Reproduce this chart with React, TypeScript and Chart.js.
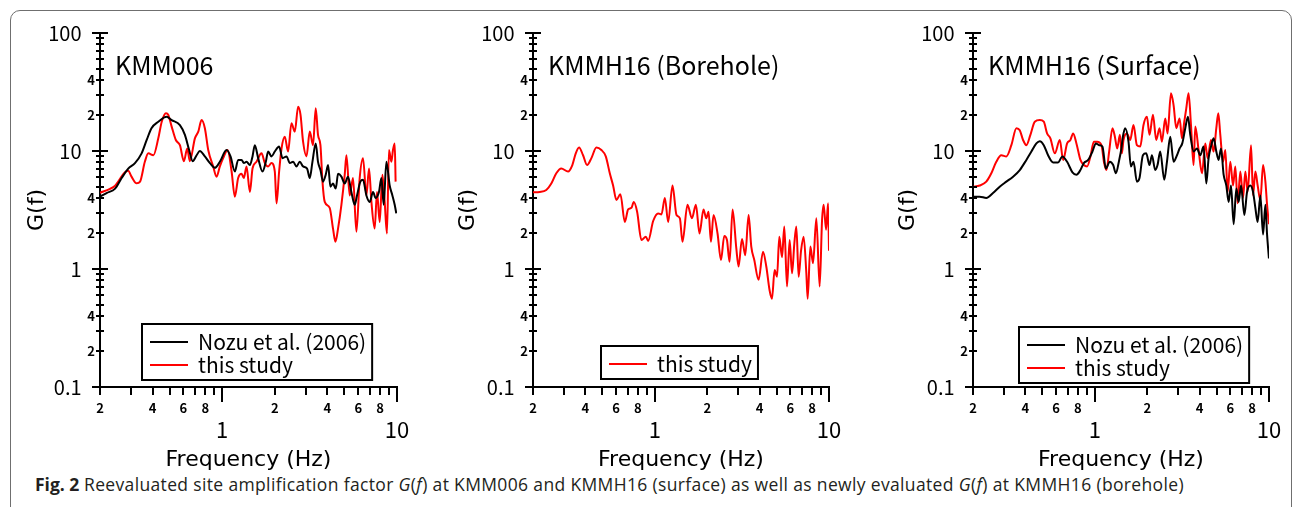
import React, { useEffect, useRef } from "react";
import { Chart, registerables } from "chart.js";

Chart.register(...registerables);

const FONT = '"Noto Sans CJK JP", "Noto Sans", sans-serif';
const AXIS_TITLE_FONT = '"DejaVu Sans", "Noto Sans", sans-serif';

// ---- axis ticks ----
const xTickValues = [0.2, 0.3, 0.4, 0.5, 0.6, 0.7, 0.8, 0.9, 1, 2, 3, 4, 5, 6, 7, 8, 9, 10];
const xTickLabels = ["2", "", "4", "", "6", "", "8", "", "1", "2", "", "4", "", "6", "", "8", "", "10"];
const xMajorValues = [1, 10];

const yTickValues = [0.1, 0.2, 0.3, 0.4, 0.5, 0.6, 0.7, 0.8, 0.9, 1, 2, 3, 4, 5, 6, 7, 8, 9, 10, 20, 30, 40, 50, 60, 70, 80, 90, 100];
const yTickLabels = ["0.1", "2", "", "4", "", "", "", "", "", "1", "2", "", "4", "", "", "", "", "", "10", "2", "", "4", "", "", "", "", "", "100"];
const yMajorValues = [0.1, 1, 10, 100];

// ---- KMM006 ----
const kmm006NozuF = [0.2, 0.218, 0.244, 0.266, 0.29, 0.317, 0.346, 0.37, 0.394, 0.431, 0.481, 0.514, 0.573, 0.612, 0.647, 0.678, 0.714, 0.745, 0.796, 0.851, 0.908, 0.97, 1.059, 1.116, 1.181, 1.234, 1.291, 1.33, 1.378, 1.44, 1.491, 1.537, 1.606, 1.701, 1.777, 1.831, 1.915, 2.0, 2.117, 2.213, 2.333, 2.438, 2.546, 2.66, 2.779, 2.902, 3.06, 3.17, 3.283, 3.428, 3.533, 3.648, 3.776, 3.911, 4.034, 4.16, 4.305, 4.463, 4.6, 4.808, 5.023, 5.244, 5.483, 5.73, 5.905, 6.174, 6.391, 6.683, 6.982, 7.293, 7.546, 7.886, 8.145, 8.389, 8.694, 9.081, 9.41, 9.701, 9.909];
const kmm006NozuG = [4.1, 4.4, 4.8, 5.9, 7.1, 7.9, 9.55, 12.4, 15.6, 17.7, 19.5, 18.3, 16.6, 13.7, 10.2, 8.2, 9.2, 10.0, 9.0, 7.9, 7.2, 8.1, 10.2, 9.0, 6.7, 8.4, 8.4, 7.9, 8.1, 7.6, 9.0, 11.2, 8.7, 6.7, 8.1, 9.9, 9.0, 9.9, 10.9, 8.7, 9.0, 7.9, 8.1, 7.4, 8.1, 7.4, 7.1, 5.9, 8.1, 11.6, 8.1, 6.9, 5.5, 6.3, 7.6, 4.98, 5.3, 4.8, 6.4, 6.06, 5.3, 6.06, 4.5, 3.5, 4.2, 5.5, 5.7, 4.2, 3.7, 4.5, 4.0, 4.5, 5.9, 3.5, 8.1, 5.1, 4.2, 3.5, 2.96];
const kmm006StudyF = [0.2, 0.228, 0.244, 0.278, 0.29, 0.303, 0.324, 0.339, 0.361, 0.378, 0.404, 0.431, 0.451, 0.477, 0.491, 0.514, 0.543, 0.573, 0.604, 0.631, 0.653, 0.698, 0.73, 0.762, 0.796, 0.832, 0.888, 0.929, 0.97, 1.013, 1.074, 1.132, 1.181, 1.234, 1.291, 1.33, 1.378, 1.44, 1.491, 1.571, 1.679, 1.754, 1.831, 1.915, 2.0, 2.046, 2.117, 2.185, 2.281, 2.382, 2.49, 2.603, 2.718, 2.805, 2.902, 3.035, 3.17, 3.309, 3.428, 3.533, 3.648, 3.747, 3.861, 4.121, 4.305, 4.446, 4.6, 4.808, 5.023, 5.136, 5.365, 5.603, 5.86, 6.117, 6.391, 6.683, 6.918, 7.139, 7.452, 7.685, 7.962, 8.249, 8.503, 8.762, 8.995, 9.283, 9.483, 9.701, 9.82];
const kmm006StudyG = [4.43, 4.77, 5.08, 6.6, 6.8, 6.06, 5.32, 5.5, 8.1, 9.55, 9.2, 12.8, 17.7, 20.9, 20.3, 16.1, 12.4, 11.2, 8.2, 10.5, 8.2, 12.8, 14.6, 18.3, 15.6, 10.2, 7.4, 6.06, 7.4, 8.7, 10.2, 6.7, 4.1, 5.9, 6.4, 5.9, 7.4, 4.5, 7.1, 8.1, 9.55, 7.9, 7.4, 7.9, 6.7, 3.6, 6.7, 10.5, 13.2, 9.9, 17.2, 14.6, 23.7, 20.3, 12, 9.0, 14.6, 11.2, 23, 13.7, 11.2, 5.5, 3.7, 3.3, 2.2, 1.7, 2.2, 3.5, 6.3, 9.2, 4.2, 5.9, 2.07, 5.9, 8.7, 4.2, 7.1, 3.7, 2.2, 4.5, 2.5, 6.3, 3.7, 2.0, 10.2, 8.1, 10.2, 11.6, 5.5];

// ---- KMMH16 (Borehole) ----
const kmmh16BoreStudyF = [0.2, 0.2185, 0.2384, 0.2548, 0.2721, 0.2907, 0.3178, 0.3364, 0.3519, 0.3676, 0.3876, 0.4087, 0.4327, 0.4622, 0.4937, 0.5233, 0.5518, 0.5765, 0.6021, 0.6348, 0.673, 0.7031, 0.7343, 0.758, 0.7919, 0.8383, 0.8886, 0.9161, 0.9788, 1.0457, 1.0924, 1.1427, 1.1938, 1.2637, 1.3324, 1.3936, 1.442, 1.541, 1.634, 1.722, 1.806, 1.904, 1.974, 2.035, 2.101, 2.174, 2.292, 2.398, 2.505, 2.596, 2.687, 2.796, 2.937, 3.027, 3.166, 3.307, 3.455, 3.58, 3.725, 3.943, 4.179, 4.366, 4.56, 4.707, 4.873, 5.03, 5.185, 5.374, 5.54, 5.741, 5.943, 6.135, 6.324, 6.494, 6.695, 6.911, 7.152, 7.413, 7.541, 7.816, 8.1, 8.46, 8.838, 9.124, 9.319, 9.621, 9.879, 10];
const kmmh16BoreStudyG = [4.47, 4.5, 4.67, 5.3, 6.47, 7.1, 6.7, 7.6, 9.55, 10.7, 9.2, 7.6, 8.7, 10.7, 10.2, 9.0, 6.47, 5.1, 3.85, 4.3, 2.5, 3.2, 3.3, 3.7, 3.06, 1.76, 1.88, 1.73, 2.55, 2.96, 2.9, 4.0, 2.5, 5.1, 2.87, 2.69, 1.7, 3.5, 2.69, 3.5, 2.0, 3.2, 2.69, 3.06, 1.7, 2.87, 2.0, 1.19, 1.9, 1.76, 1.15, 3.2, 1.5, 1.05, 1.8, 1.31, 2.87, 1.55, 1.19, 0.81, 1.4, 1.05, 0.66, 0.56, 0.98, 0.86, 1.88, 1.26, 2.29, 0.71, 1.76, 0.92, 1.64, 2.29, 0.86, 1.43, 1.88, 0.92, 0.56, 1.55, 1.12, 2.69, 0.71, 2.6, 3.5, 2.15, 3.6, 1.43];

// ---- KMMH16 (Surface) ----
const kmmh16SurfNozuF = [0.2, 0.2185, 0.2384, 0.2605, 0.2847, 0.3108, 0.3396, 0.3711, 0.4049, 0.4327, 0.4622, 0.4833, 0.5096, 0.5395, 0.5765, 0.616, 0.652, 0.6938, 0.7444, 0.7846, 0.8274, 0.8654, 0.9161, 0.9696, 1.0144, 1.0595, 1.1068, 1.1576, 1.2205, 1.2754, 1.3218, 1.3809, 1.42, 1.4497, 1.4948, 1.5613, 1.6117, 1.6683, 1.7448, 1.806, 1.8893, 1.974, 2.0617, 2.128, 2.223, 2.292, 2.375, 2.505, 2.596, 2.712, 2.833, 2.964, 3.068, 3.178, 3.307, 3.427, 3.533, 3.691, 3.86, 4.033, 4.213, 4.366, 4.501, 4.646, 4.808, 4.984, 5.138, 5.304, 5.489, 5.689, 5.865, 6.053, 6.266, 6.494, 6.695, 6.911, 7.22, 7.482, 7.816, 8.1, 8.35, 8.608, 8.921, 9.245, 9.533, 9.748, 9.99];
const kmmh16SurfNozuG = [4.1, 4.1, 4.0, 4.4, 4.98, 5.5, 6.06, 6.9, 8.4, 9.9, 11.6, 12.1, 11.2, 9.2, 8.0, 8.0, 9.0, 8.1, 6.6, 6.3, 6.9, 7.9, 8.4, 9.9, 11.6, 11.2, 10.9, 7.1, 8.1, 7.6, 6.47, 8.4, 10.4, 13.2, 15.6, 12.0, 7.4, 8.1, 5.5, 5.9, 9.2, 9.55, 7.6, 9.2, 6.9, 7.6, 9.9, 5.7, 8.1, 13.2, 8.1, 9.2, 10.5, 11.6, 15.6, 19.5, 13.7, 9.9, 10.5, 9.2, 10.9, 5.3, 8.7, 10.9, 12.8, 9.9, 8.4, 10.5, 6.3, 5.1, 3.7, 5.1, 2.4, 4.8, 3.7, 5.1, 2.87, 4.5, 5.1, 4.5, 3.3, 2.5, 4.2, 1.96, 3.5, 1.96, 1.23];
const kmmh16SurfStudyF = [0.2, 0.2185, 0.2384, 0.2548, 0.2721, 0.2907, 0.3108, 0.332, 0.3548, 0.3711, 0.3876, 0.4049, 0.427, 0.4525, 0.4833, 0.5096, 0.5324, 0.5562, 0.5893, 0.63, 0.658, 0.6938, 0.7247, 0.7513, 0.7846, 0.8274, 0.8654, 0.9041, 0.9443, 0.9879, 1.0318, 1.0924, 1.132, 1.167, 1.2093, 1.2637, 1.3045, 1.3448, 1.3936, 1.43, 1.4615, 1.5286, 1.5969, 1.6683, 1.7448, 1.8232, 1.904, 1.9923, 2.0617, 2.157, 2.253, 2.353, 2.429, 2.538, 2.617, 2.737, 2.833, 2.937, 3.068, 3.166, 3.264, 3.351, 3.455, 3.566, 3.691, 3.775, 3.943, 4.125, 4.309, 4.442, 4.646, 4.808, 4.984, 5.117, 5.254, 5.446, 5.615, 5.788, 5.998, 6.216, 6.408, 6.607, 6.848, 7.096, 7.315, 7.541, 7.889, 8.1, 8.35, 8.608, 8.921, 9.245, 9.533, 9.748, 9.99];
const kmmh16SurfStudyG = [4.98, 5.1, 5.5, 6.47, 8.1, 9.2, 9.0, 11.2, 15.6, 15.0, 12.4, 11.2, 13.7, 17.7, 18.3, 17.7, 14.1, 12.8, 9.55, 12.4, 8.4, 11.6, 12.4, 14.1, 11.6, 8.4, 7.6, 7.4, 9.0, 12.0, 12.0, 11.2, 7.9, 6.9, 9.9, 15.6, 13.2, 10.5, 13.7, 9.55, 12.4, 14.1, 12.4, 16.6, 11.2, 10.9, 16.6, 19.5, 13.7, 20.3, 12.4, 15.6, 12.0, 18.9, 14.1, 30.8, 24.5, 15.6, 18.9, 12.8, 17.7, 23.0, 30.8, 16.6, 7.6, 16.1, 10.2, 6.47, 11.6, 8.7, 12.4, 9.9, 15.6, 20.9, 13.7, 8.1, 10.2, 4.5, 8.1, 5.1, 7.4, 3.6, 6.7, 4.0, 6.7, 4.5, 11.2, 4.2, 6.7, 5.1, 3.85, 7.6, 5.5, 3.5, 2.4];

const NOZU_LABEL = "Nozu et al. (2006)";
const STUDY_LABEL = "this study";

type Series = { label: string; f: number[]; g: number[]; color: string };
type Panel = {
  title: string;
  canvasLeft: number;
  canvasWidth: number;
  rightPad: number;
  yTitlePad: number;
  legendDx: number;
  legendGap: number;
  series: Series[];
};

const panels: Panel[] = [
  {
    title: "KMM006",
    canvasLeft: 10,
    canvasWidth: 417,
    rightPad: 30,
    yTitlePad: 16,
    legendDx: 42,
    legendGap: 7,
    series: [
      { label: NOZU_LABEL, f: kmm006NozuF, g: kmm006NozuG, color: "#000000" },
      { label: STUDY_LABEL, f: kmm006StudyF, g: kmm006StudyG, color: "#ff0000" },
    ],
  },
  {
    title: "KMMH16 (Borehole)",
    canvasLeft: 443,
    canvasWidth: 416,
    rightPad: 30,
    yTitlePad: 14,
    legendDx: 68,
    legendGap: 8,
    series: [{ label: STUDY_LABEL, f: kmmh16BoreStudyF, g: kmmh16BoreStudyG, color: "#ff0000" }],
  },
  {
    title: "KMMH16 (Surface)",
    canvasLeft: 883,
    canvasWidth: 411,
    rightPad: 25,
    yTitlePad: 14,
    legendDx: 46,
    legendGap: 4,
    series: [
      { label: NOZU_LABEL, f: kmmh16SurfNozuF, g: kmmh16SurfNozuG, color: "#000000" },
      { label: STUDY_LABEL, f: kmmh16SurfStudyF, g: kmmh16SurfStudyG, color: "#ff0000" },
    ],
  },
];

const CANVAS_TOP = 12;
const CANVAS_HEIGHT = 458;

function PanelChart({ panel }: { panel: Panel }) {
  const ref = useRef<HTMLCanvasElement | null>(null);

  useEffect(() => {
    const canvas = ref.current;
    if (!canvas) return;

    const tickPlugin = {
      id: "logTickMarks",
      afterDraw(chart: any) {
        const { ctx, chartArea, scales } = chart;
        ctx.save();
        ctx.strokeStyle = "#000";
        ctx.lineWidth = 2;
        xTickValues.forEach((v) => {
          const px = Math.round(scales.x.getPixelForValue(v));
          const len = xMajorValues.includes(v) ? 15 : 8;
          ctx.beginPath();
          ctx.moveTo(px, chartArea.bottom);
          ctx.lineTo(px, chartArea.bottom + len);
          ctx.stroke();
        });
        yTickValues.forEach((v) => {
          const py = Math.round(scales.y.getPixelForValue(v));
          const half = yMajorValues.includes(v) ? 8 : 4;
          const right = v === 0.1 ? chartArea.left : chartArea.left + half;
          ctx.beginPath();
          ctx.moveTo(chartArea.left - half, py);
          ctx.lineTo(right, py);
          ctx.stroke();
        });
        ctx.restore();
      },
    };

    const titlePlugin = {
      id: "stationTitle",
      afterDraw(chart: any) {
        const { ctx, chartArea } = chart;
        ctx.save();
        ctx.font = `25px ${FONT}`;
        ctx.fillStyle = "#000";
        ctx.textAlign = "left";
        ctx.textBaseline = "middle";
        ctx.fillText(panel.title, chartArea.left + 15, chartArea.top + 32);
        ctx.restore();
      },
    };

    const legendPlugin = {
      id: "boxLegend",
      afterDraw(chart: any) {
        const { ctx, chartArea } = chart;
        const rows = chart.data.datasets;
        ctx.save();
        ctx.font = `21px ${FONT}`;
        const textW = Math.max(...rows.map((r: any) => ctx.measureText(r.label).width));
        const boxW = 56 + textW + 6;
        const boxH = 10 + rows.length * 23;
        const left = chartArea.left + panel.legendDx;
        const bottom = chartArea.bottom - panel.legendGap;
        const top = bottom - boxH;
        ctx.fillStyle = "#fff";
        ctx.fillRect(left, top, boxW, boxH);
        ctx.strokeStyle = "#000";
        ctx.lineWidth = 2;
        ctx.strokeRect(left, top, boxW, boxH);
        rows.forEach((r: any, i: number) => {
          const y = top + 18 + i * 23;
          ctx.strokeStyle = r.borderColor;
          ctx.lineWidth = 2;
          ctx.beginPath();
          ctx.moveTo(left + 8, y);
          ctx.lineTo(left + 46, y);
          ctx.stroke();
          ctx.fillStyle = "#000";
          ctx.textAlign = "left";
          ctx.textBaseline = "middle";
          ctx.fillText(r.label, left + 56, y);
        });
        ctx.restore();
      },
    };

    const chart = new Chart(canvas, {
      type: "line",
      data: {
        datasets: panel.series.map((s) => ({
          label: s.label,
          data: s.f.map((f, i) => ({ x: f, y: s.g[i] })),
          borderColor: s.color,
          backgroundColor: s.color,
          borderWidth: 2,
          pointRadius: 0,
          cubicInterpolationMode: "monotone" as const,
          fill: false,
          borderJoinStyle: "round" as const,
        })),
      },
      options: {
        responsive: false,
        animation: false,
        devicePixelRatio: 1,
        events: [],
        layout: { padding: { left: 0, top: 21, right: panel.rightPad, bottom: 0 } },
        plugins: {
          legend: { display: false },
          tooltip: { enabled: false },
          title: { display: false },
        },
        scales: {
          x: {
            type: "logarithmic",
            position: "bottom",
            min: 0.2,
            max: 10,
            grid: { display: false, drawTicks: false, tickLength: 0 },
            border: { display: true, color: "#000", width: 2 },
            afterBuildTicks: (scale: any) => {
              scale.ticks = xTickValues.map((v) => ({ value: v }));
            },
            afterFit: (scale: any) => {
              scale.height = CANVAS_HEIGHT - 21 - 354;
              scale.paddingLeft = 0;
              scale.paddingRight = 0;
            },
            ticks: {
              autoSkip: false,
              maxRotation: 0,
              minRotation: 0,
              padding: 13,
              color: "#000",
              callback: (_v: any, i: number) => xTickLabels[i] ?? "",
              font: (c: any) =>
                c.tick && xMajorValues.includes(c.tick.value)
                  ? { family: FONT, size: 22, lineHeight: 60 / 22 }
                  : { family: FONT, size: 13, weight: "bold", lineHeight: 1.2 },
            },
            title: {
              display: true,
              text: "Frequency (Hz)",
              color: "#000",
              font: { family: AXIS_TITLE_FONT, size: 22, lineHeight: 1 },
              padding: { top: 0, bottom: -1 },
            },
          },
          y: {
            type: "logarithmic",
            position: "left",
            min: 0.1,
            max: 100,
            grid: { display: false, drawTicks: false, tickLength: 0 },
            border: { display: true, color: "#000", width: 2 },
            afterBuildTicks: (scale: any) => {
              scale.ticks = yTickValues.map((v) => ({ value: v }));
            },
            afterFit: (scale: any) => {
              scale.width = 90;
              scale.paddingTop = 0;
              scale.paddingBottom = 0;
            },
            ticks: {
              autoSkip: false,
              padding: 5,
              color: "#000",
              callback: (v: any, i: number) => {
                const lab = yTickLabels[i] ?? "";
                return yMajorValues.includes(yTickValues[i]) ? lab + "   " : lab;
              },
              font: (c: any) =>
                c.tick && yMajorValues.includes(c.tick.value)
                  ? { family: FONT, size: 20, lineHeight: 1.2 }
                  : { family: FONT, size: 13, weight: "bold", lineHeight: 1.2 },
            },
            title: {
              display: true,
              text: "G(f)",
              color: "#000",
              font: { family: AXIS_TITLE_FONT, size: 22, lineHeight: 1 },
              padding: { top: panel.yTitlePad, bottom: 0 },
            },
          },
        },
      } as any,
      plugins: [tickPlugin, titlePlugin, legendPlugin],
    });

    return () => chart.destroy();
  }, [panel]);

  return (
    <canvas
      ref={ref}
      width={panel.canvasWidth}
      height={CANVAS_HEIGHT}
      style={{
        position: "absolute",
        left: panel.canvasLeft,
        top: CANVAS_TOP,
        width: panel.canvasWidth,
        height: CANVAS_HEIGHT,
      }}
    />
  );
}

export default function App() {
  return (
    <div
      style={{
        position: "absolute",
        left: 0,
        top: 0,
        width: 1295,
        height: 507,
        overflow: "hidden",
        background: "#fff",
      }}
    >
      <div
        style={{
          position: "absolute",
          left: 10,
          top: 10,
          width: 1282,
          height: 540,
          border: "1px solid #6f6f6f",
          borderRadius: 10,
          boxSizing: "border-box",
        }}
      />
      {panels.map((p) => (
        <PanelChart key={p.title} panel={p} />
      ))}
      <div
        style={{
          position: "absolute",
          left: 35,
          top: 474,
          whiteSpace: "nowrap",
          fontFamily: '"Open Sans", "Noto Sans", sans-serif',
          fontSize: 17.5,
          letterSpacing: "0.35px",
          lineHeight: "20px",
          color: "#231f20",
        }}
      >
        <b style={{ display: "inline-block", width: 49, letterSpacing: 0 }}>Fig. 2</b>
        Reevaluated site amplification factor <i>G</i>(<i>f</i>) at KMM006 and KMMH16 (surface) as well as newly
        evaluated <i>G</i>(<i>f</i>) at KMMH16 (borehole)
      </div>
    </div>
  );
}
